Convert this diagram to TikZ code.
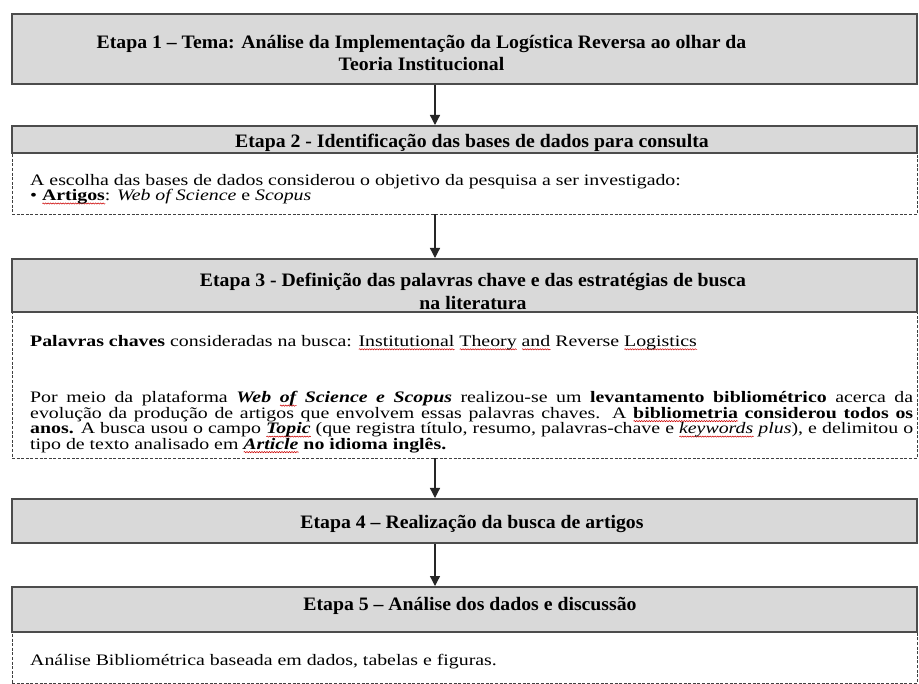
\documentclass[tikz,border=0pt]{standalone}
\usepackage{fontspec}
\setmainfont{Liberation Serif}[FakeStretch=1.04]
\newfontfamily\bodyfont{Liberation Serif}[FakeStretch=1.24]
\usetikzlibrary{arrows.meta,decorations.pathmorphing}
\newsavebox\rwbox
\newlength\rwlen
\newcommand\rwave[1]{\leavevmode\sbox\rwbox{#1}\setlength\rwlen{\wd\rwbox}\rlap{\smash{\raisebox{-3pt}{\tikz[baseline=0pt]\draw[red!80!black,line width=0.5pt,decorate,decoration={snake,amplitude=0.6pt,segment length=2.5pt}] (0pt,0pt) -- (\rwlen,0pt);}}}\usebox\rwbox}
\newcommand\tightlines{\lineskiplimit=-50pt\lineskip=0pt}
\tikzset{
  hdr/.style={draw=black!70, line width=2pt, fill=black!15, minimum width=905, inner sep=0pt},
  cbox/.style={draw=black!75, line width=0.8pt, dash pattern=on 3pt off 1.6pt, minimum width=905, inner sep=0pt},
  arr/.style={draw=black!85, line width=1.3pt, -{Triangle[width=10pt,length=10pt]}},
  htxt/.style={inner sep=0pt, font=\bfseries\fontsize{19}{22}\selectfont\tightlines, align=center},
  btxt/.style={inner sep=0pt, font=\bodyfont\fontsize{16}{15.5}\selectfont\tightlines, align=left, anchor=west}
}
\begin{document}
\begin{tikzpicture}[x=1pt, y=-1pt]
\fill[white] (0,0) rectangle (919,684);
\useasboundingbox (0,0) rectangle (919,684);
\coordinate (ax) at (435,0);
% boxes
\node[cbox, minimum height=61] (c2) at (464.5,183.5) {};
\node[cbox, minimum height=146] (c3) at (464.5,385) {};
\node[cbox, minimum height=51] (c5) at (464.5,657.5) {};
\node[hdr, minimum height=70] (h1) at (464.5,49) {};
\node[hdr, minimum height=27] (h2) at (464.5,139.5) {};
\node[hdr, minimum height=53] (h3) at (464.5,285.5) {};
\node[hdr, minimum height=44] (h4) at (464.5,521) {};
\node[hdr, minimum height=45] (h5) at (464.5,609.5) {};
% header texts
\node[htxt, font=\bfseries\fontsize{19}{21.5}\selectfont\tightlines] (t1) at (421.5,53) {Etapa 1 – Tema: Análise da Implementação da Logística Reversa ao olhar da\\Teoria Institucional};
\node[htxt] (t2) at (472,142.5) {Etapa 2 - Identificação das bases de dados para consulta};
\node[htxt, font=\bfseries\fontsize{19}{23}\selectfont\tightlines] (t3) at (473,291) {Etapa 3 - Definição das palavras chave e das estratégias de busca\\na literatura};
\node[htxt] (t4) at (472,523.5) {Etapa 4 – Realização da busca de artigos};
\node[htxt] (t5) at (470,605.5) {Etapa 5 – Análise dos dados e discussão};
% body texts
\node[btxt] (b2) at (30,189) {A escolha das bases de dados considerou o objetivo da pesquisa a ser investigado:\\• \rwave{\textbf{Artigos}}: \textit{Web of Science} e \textit{Scopus}};
\node[btxt] (b3a) at (30,342.5) {\textbf{Palavras chaves} consideradas na busca: \rwave{Institutional} \rwave{Theory} \rwave{and} Reverse \rwave{Logistics}};
\node[btxt, text width=883, align=justify] (b3b) at (30,422) {Por meio da plataforma \textbf{\textit{Web \rwave{of} Science e Scopus}} realizou-se um \textbf{levantamento bibliométrico} acerca da\linebreak evolução da produção de artigos que envolvem essas palavras chaves. A \textbf{\rwave{bibliometria} considerou todos os}\linebreak \textbf{anos.} A busca usou o campo \textbf{\textit{\rwave{Topic}}} (que registra título, resumo, palavras-chave e \textit{\rwave{keywords} plus}), e delimitou o\linebreak tipo de texto analisado em \textbf{\textit{\rwave{Article}}} \textbf{no idioma inglês.}};
\node[btxt] (b5) at (30,661.5) {Análise Bibliométrica baseada em dados, tabelas e figuras.};
% arrows
\draw[arr] (h1.south -| ax) -- (h2.north -| ax);
\draw[arr] (c2.south -| ax) -- (h3.north -| ax);
\draw[arr] (c3.south -| ax) -- (h4.north -| ax);
\draw[arr] (h4.south -| ax) -- (h5.north -| ax);
\end{tikzpicture}
\end{document}
